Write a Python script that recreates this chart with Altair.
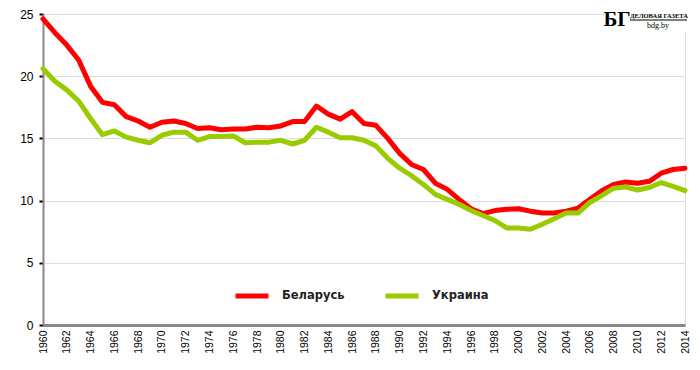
import altair as alt
import pandas as pd

years = list(range(1960, 2015))
belarus = [24.6, 23.5, 22.5, 21.3, 19.2, 17.9, 17.7, 16.75, 16.4, 15.9,
           16.3, 16.4, 16.2, 15.8, 15.85, 15.7, 15.75, 15.75, 15.9, 15.85,
           16.0, 16.35, 16.35, 17.6, 16.95, 16.55, 17.15, 16.2, 16.05, 15.0,
           13.8, 12.9, 12.5, 11.4, 10.9, 10.1, 9.35, 8.95, 9.2, 9.3,
           9.35, 9.15, 9.0, 9.0, 9.15, 9.4, 10.1, 10.8, 11.3, 11.5,
           11.4, 11.55, 12.2, 12.5, 12.6]
ukraine = [20.6, 19.6, 18.9, 18.0, 16.6, 15.3, 15.6, 15.1, 14.85, 14.65,
           15.25, 15.5, 15.5, 14.85, 15.15, 15.15, 15.2, 14.65, 14.7, 14.7,
           14.85, 14.55, 14.85, 15.9, 15.5, 15.05, 15.05, 14.85, 14.4, 13.4,
           12.6, 12.0, 11.3, 10.5, 10.1, 9.7, 9.2, 8.8, 8.4, 7.8,
           7.8, 7.7, 8.1, 8.55, 9.0, 9.0, 9.85, 10.4, 11.0, 11.1,
           10.85, 11.05, 11.45, 11.15, 10.8]
series_names = ["Беларусь", "Украина"]
series_colors = ["#FF0000", "#99CC00"]
x_ticks = list(range(1960, 2015, 2))
y_ticks = [0, 5, 10, 15, 20, 25]

df = pd.DataFrame({
    "year": years * 2,
    "value": belarus + ukraine,
    "country": [series_names[0]] * len(years) + [series_names[1]] * len(years),
})

lines = alt.Chart(df).mark_line(strokeWidth=5, strokeJoin="round", strokeCap="round").encode(
    x=alt.X("year:Q", scale=alt.Scale(domain=[1960, 2014], nice=False),
            axis=alt.Axis(values=x_ticks, format="d", labelAngle=270, grid=False,
                          ticks=False, labelPadding=5, title=None,
                          labelFontSize=10.5, domainWidth=3)),
    y=alt.Y("value:Q", scale=alt.Scale(domain=[0, 25], nice=False),
            axis=alt.Axis(values=y_ticks, grid=True, tickSize=4, tickWidth=2,
                          tickColor="black", labelPadding=6, title=None,
                          labelFontSize=12, domainWidth=2)),
    color=alt.Color("country:N", sort=series_names,
                    scale=alt.Scale(domain=series_names, range=series_colors),
                    legend=alt.Legend(title=None, orient="none", legendX=190, legendY=263,
                                      direction="horizontal", symbolType="stroke",
                                      symbolStrokeWidth=5, symbolSize=1089,
                                      labelOffset=11, columnPadding=30,
                                      labelFontSize=11.5, labelFont="DejaVu Sans",
                                      labelFontWeight="bold", labelColor="#222222")),
)

logo_bg = alt.Chart(pd.DataFrame({"a": [0]})).mark_rect(color="white").encode(
    x=alt.value(562), x2=alt.value(650), y=alt.value(-8), y2=alt.value(18)
)
logo_mark = alt.Chart(pd.DataFrame({"t": ["БГ"]})).mark_text(
    font="Liberation Serif", fontWeight="bold", fontSize=21, align="center",
    baseline="alphabetic", color="black"
).encode(x=alt.value(574), y=alt.value(12), text="t:N")
logo_name = alt.Chart(pd.DataFrame({"t": ["ДЕЛОВАЯ ГАЗЕТА"]})).mark_text(
    font="Liberation Serif", fontWeight="bold", fontSize=6.5,
    align="left", baseline="alphabetic", color="black"
).encode(x=alt.value(587), y=alt.value(4), text="t:N")
logo_line = alt.Chart(pd.DataFrame({"a": [0]})).mark_rule(color="black", strokeWidth=1).encode(
    x=alt.value(587), x2=alt.value(644), y=alt.value(6)
)
logo_url = alt.Chart(pd.DataFrame({"t": ["bdg.by"]})).mark_text(
    font="Liberation Serif", fontSize=8, align="center", baseline="alphabetic", color="black"
).encode(x=alt.value(615), y=alt.value(14), text="t:N")

chart = alt.layer(lines, logo_bg, logo_mark, logo_name, logo_line, logo_url).properties(
    width=642, height=311,
    autosize=alt.AutoSizeParams(type="none"),
    padding={"left": 35, "top": 6, "right": 7, "bottom": 33},
).configure_view(stroke=None).configure_axis(
    domainColor="black", gridColor="#a6a6a6", gridWidth=1,
    labelFont="DejaVu Sans", labelFontWeight="bold", labelColor="#222222",
).configure(background="white")

chart.save("out.html", embed_options={"renderer": "svg", "actions": False})
